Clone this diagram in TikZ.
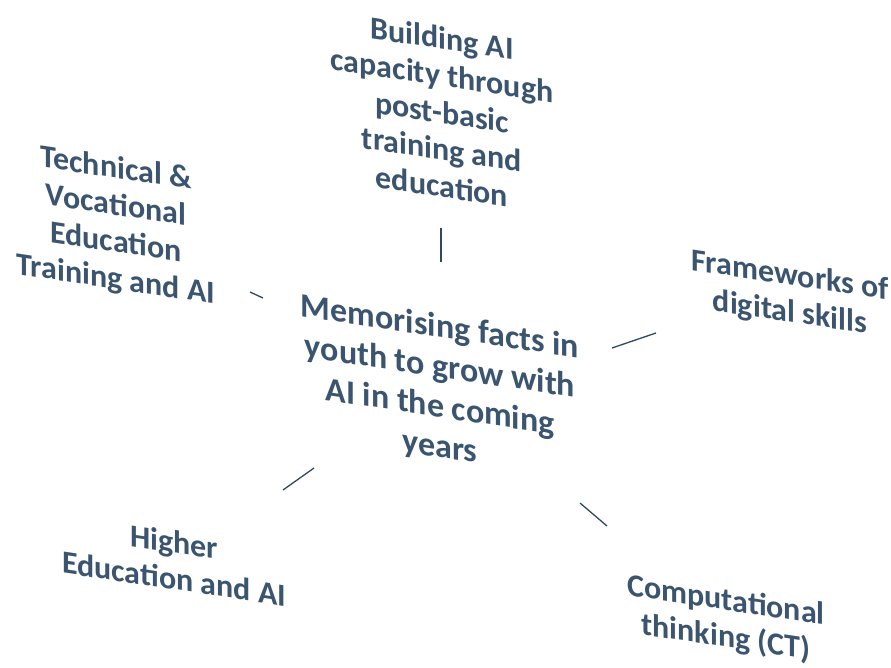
\documentclass[tikz,border=0pt]{standalone}
\usepackage{fontspec}
\setmainfont{Carlito}
\definecolor{txt}{HTML}{3B5570}
\begin{document}
\begin{tikzpicture}[x=1pt,y=-1pt,
  lbl/.style={text=txt, align=center, font=\fontsize{32}{37}\selectfont\bfseries, yslant=-0.15, inner sep=0pt},
  big/.style={lbl, font=\fontsize{34}{40}\selectfont\bfseries},
  conn/.style={draw=txt!85!black, line width=1.3pt}]
\useasboundingbox (0,0) rectangle (891,668);
\node[big] (c) at (440,388) {Memorising facts in\\youth to grow with\\AI in the coming\\years};
\node[lbl] (t) at (442,112) {Building AI\\capacity through\\post-basic\\training and\\education};
\node[lbl] (l) at (116,225) {Technical \&\\Vocational\\Education\\Training and AI};
\node[lbl] (r) at (790,295) {Frameworks of\\digital skills};
\node[lbl] (bl) at (174,560) {Higher\\Education and AI};
\node[lbl] (br) at (726,620) {Computational\\thinking (CT)};
\coordinate (t1) at (441,228); \coordinate (t2) at (441,262);
\coordinate (l1) at (250,292); \coordinate (l2) at (263,298);
\coordinate (r1) at (612,348); \coordinate (r2) at (656,333);
\coordinate (bl1) at (283,490); \coordinate (bl2) at (314,468);
\coordinate (br1) at (580,503); \coordinate (br2) at (607,526);
\draw[conn] (t1) -- (t2);
\draw[conn] (l1) -- (l2);
\draw[conn] (r1) -- (r2);
\draw[conn] (bl1) -- (bl2);
\draw[conn] (br1) -- (br2);
\end{tikzpicture}
\end{document}
